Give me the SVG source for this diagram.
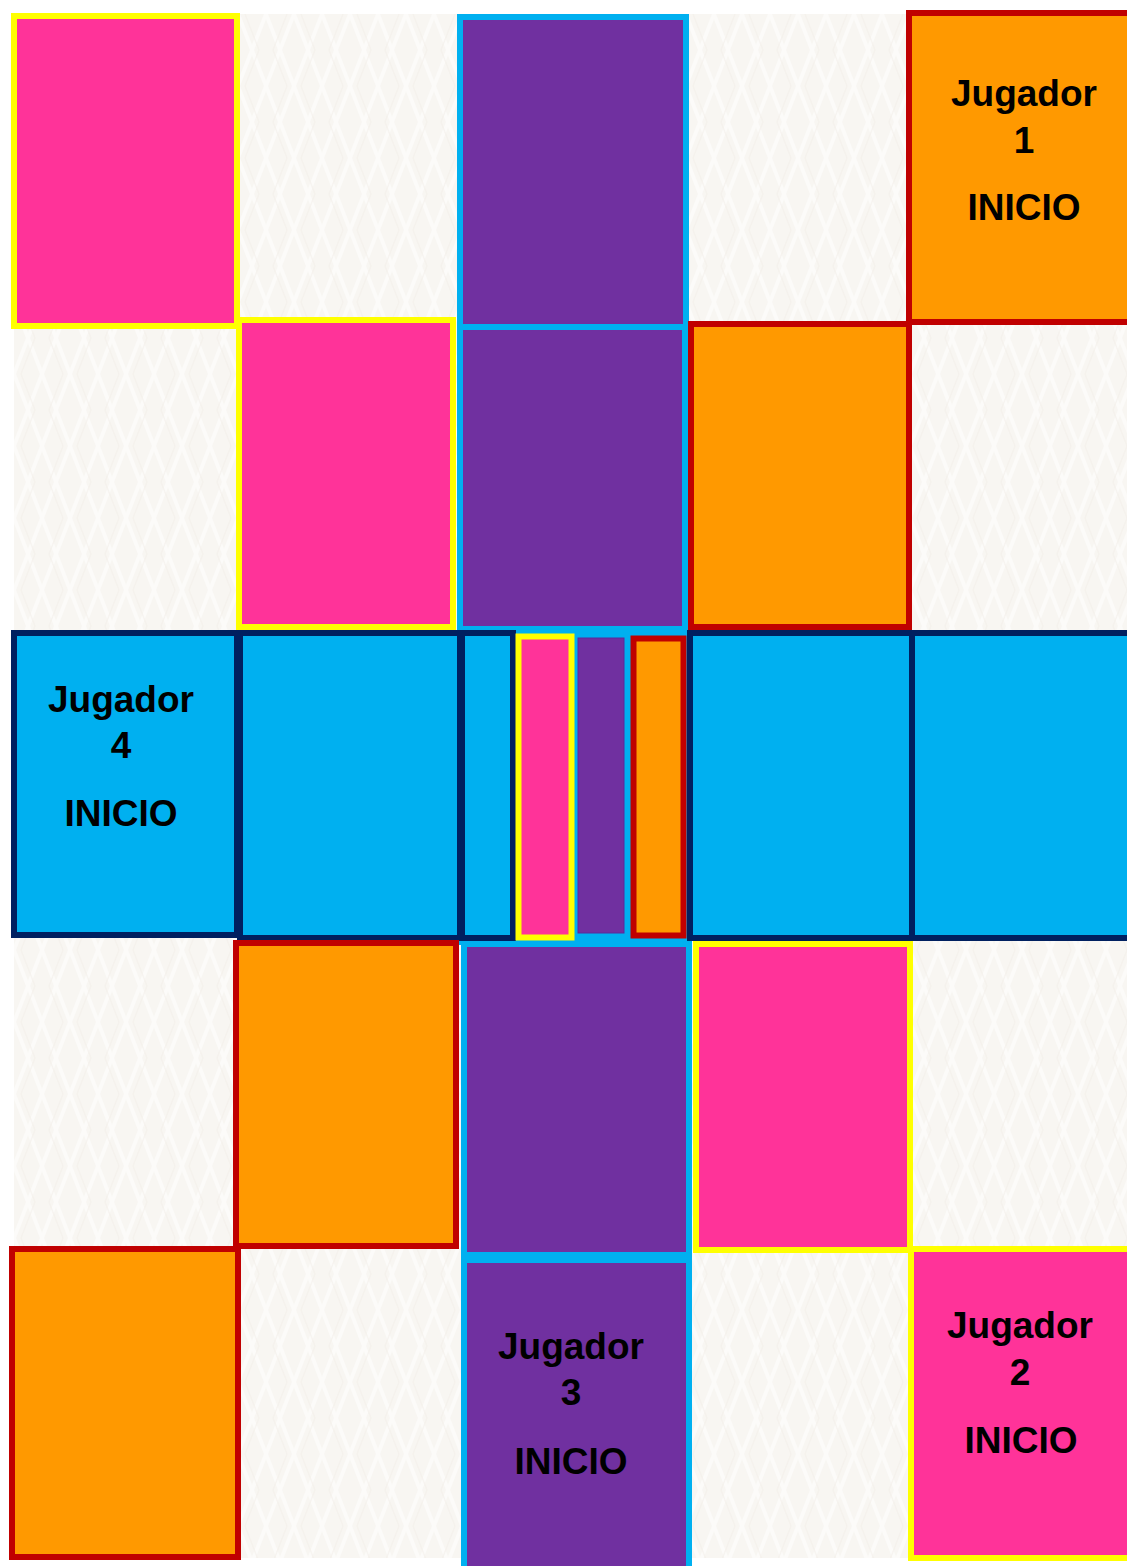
<svg xmlns="http://www.w3.org/2000/svg" width="1127" height="1566" viewBox="0 0 1127 1566">
  <defs>
    <pattern id="weave" x="14" y="14" width="56" height="72" patternUnits="userSpaceOnUse">
      <rect width="56" height="72" fill="#f8f6f2"/>
      <path d="M0 0 L14 36 L0 72 M28 0 L14 36 L28 72 M28 0 L42 36 L28 72 M56 0 L42 36 L56 72" fill="none" stroke="#fcfbf9" stroke-width="4"/>
      <path d="M7 0 L21 36 L7 72 M49 0 L35 36 L49 72" fill="none" stroke="#f1eee8" stroke-width="1.5" opacity="0.5"/>
    </pattern>
    <style>
      .pink { fill: #FF3399; stroke: #FFFF00; stroke-width: 6; }
      .orange { fill: #FF9900; stroke: #C00000; stroke-width: 6; }
      .purple { fill: #7030A0; stroke: #00B0F0; stroke-width: 6; }
      .cyan { fill: #00B0F0; stroke: #002060; stroke-width: 6; }
      .lbl { font-family: "Liberation Sans", Arial, sans-serif; font-weight: bold; font-size: 37px; fill: #000000; text-anchor: middle; }
    </style>
  </defs>
  <rect x="0" y="0" width="1127" height="1566" fill="#ffffff"/>
  <rect id="background" x="14" y="14" width="1113" height="1544" fill="url(#weave)"/>

  <g id="row1">
    <g id="r1c1"><rect class="pink" x="14" y="16" width="223" height="310"/></g>
    <g id="r1c3"><rect class="purple" x="460" y="17" width="226" height="310"/></g>
    <g id="r1c5">
      <rect class="orange" x="909" y="13" width="230" height="309"/>
      <text class="lbl" x="1024" y="106">Jugador</text>
      <text class="lbl" x="1024" y="153">1</text>
      <text class="lbl" x="1024" y="220">INICIO</text>
    </g>
  </g>

  <g id="row2">
    <g id="r2c2"><rect class="pink" x="239" y="320" width="214" height="307"/></g>
    <g id="r2c3"><rect class="purple" x="460" y="327" width="225" height="302"/></g>
    <g id="r2c4"><rect class="orange" x="691" y="324" width="218" height="303"/></g>
  </g>

  <g id="row3">
    <rect id="centerBg" x="459" y="630" width="232" height="315" fill="#00B0F0"/>
    <g id="r3c1">
      <rect class="cyan" x="14" y="633" width="223" height="302"/>
      <text class="lbl" x="121" y="712">Jugador</text>
      <text class="lbl" x="121" y="758">4</text>
      <text class="lbl" x="121" y="826">INICIO</text>
    </g>
    <g id="r3c2"><rect class="cyan" x="240" y="633" width="220" height="305"/></g>
    <g id="r3c3"><rect class="cyan" x="462" y="633" width="51" height="305"/></g>
    <g id="centerPink"><rect class="pink" x="518.5" y="636.5" width="53" height="301" stroke-width="5"/></g>
    <g id="centerPurple"><rect x="578" y="638" width="46" height="295" fill="#7030A0" stroke="#5a2a9a" stroke-width="1"/></g>
    <g id="centerOrange"><rect class="orange" x="633.5" y="638.5" width="50" height="297" stroke-width="7"/></g>
    <g id="r3c4"><rect class="cyan" x="690" y="633" width="222" height="305"/></g>
    <g id="r3c5"><rect class="cyan" x="912" y="633" width="225" height="305"/></g>
  </g>

  <g id="row4">
    <g id="r4c2"><rect class="orange" x="236" y="943" width="220" height="303"/></g>
    <g id="r4c3"><rect class="purple" x="464" y="944" width="225" height="311"/></g>
    <g id="r4c4"><rect class="pink" x="696" y="944" width="214" height="306"/></g>
  </g>

  <g id="row5">
    <g id="r5c1"><rect class="orange" x="12" y="1249" width="226" height="308"/></g>
    <g id="r5c3">
      <rect class="purple" x="464" y="1260" width="225" height="320"/>
      <text class="lbl" x="571" y="1359">Jugador</text>
      <text class="lbl" x="571" y="1405">3</text>
      <text class="lbl" x="571" y="1474">INICIO</text>
    </g>
    <g id="r5c5">
      <rect class="pink" x="911" y="1249" width="224" height="309"/>
      <text class="lbl" x="1020" y="1338">Jugador</text>
      <text class="lbl" x="1020" y="1385">2</text>
      <text class="lbl" x="1021" y="1453">INICIO</text>
    </g>
  </g>

  <g id="connectors"/>
</svg>
